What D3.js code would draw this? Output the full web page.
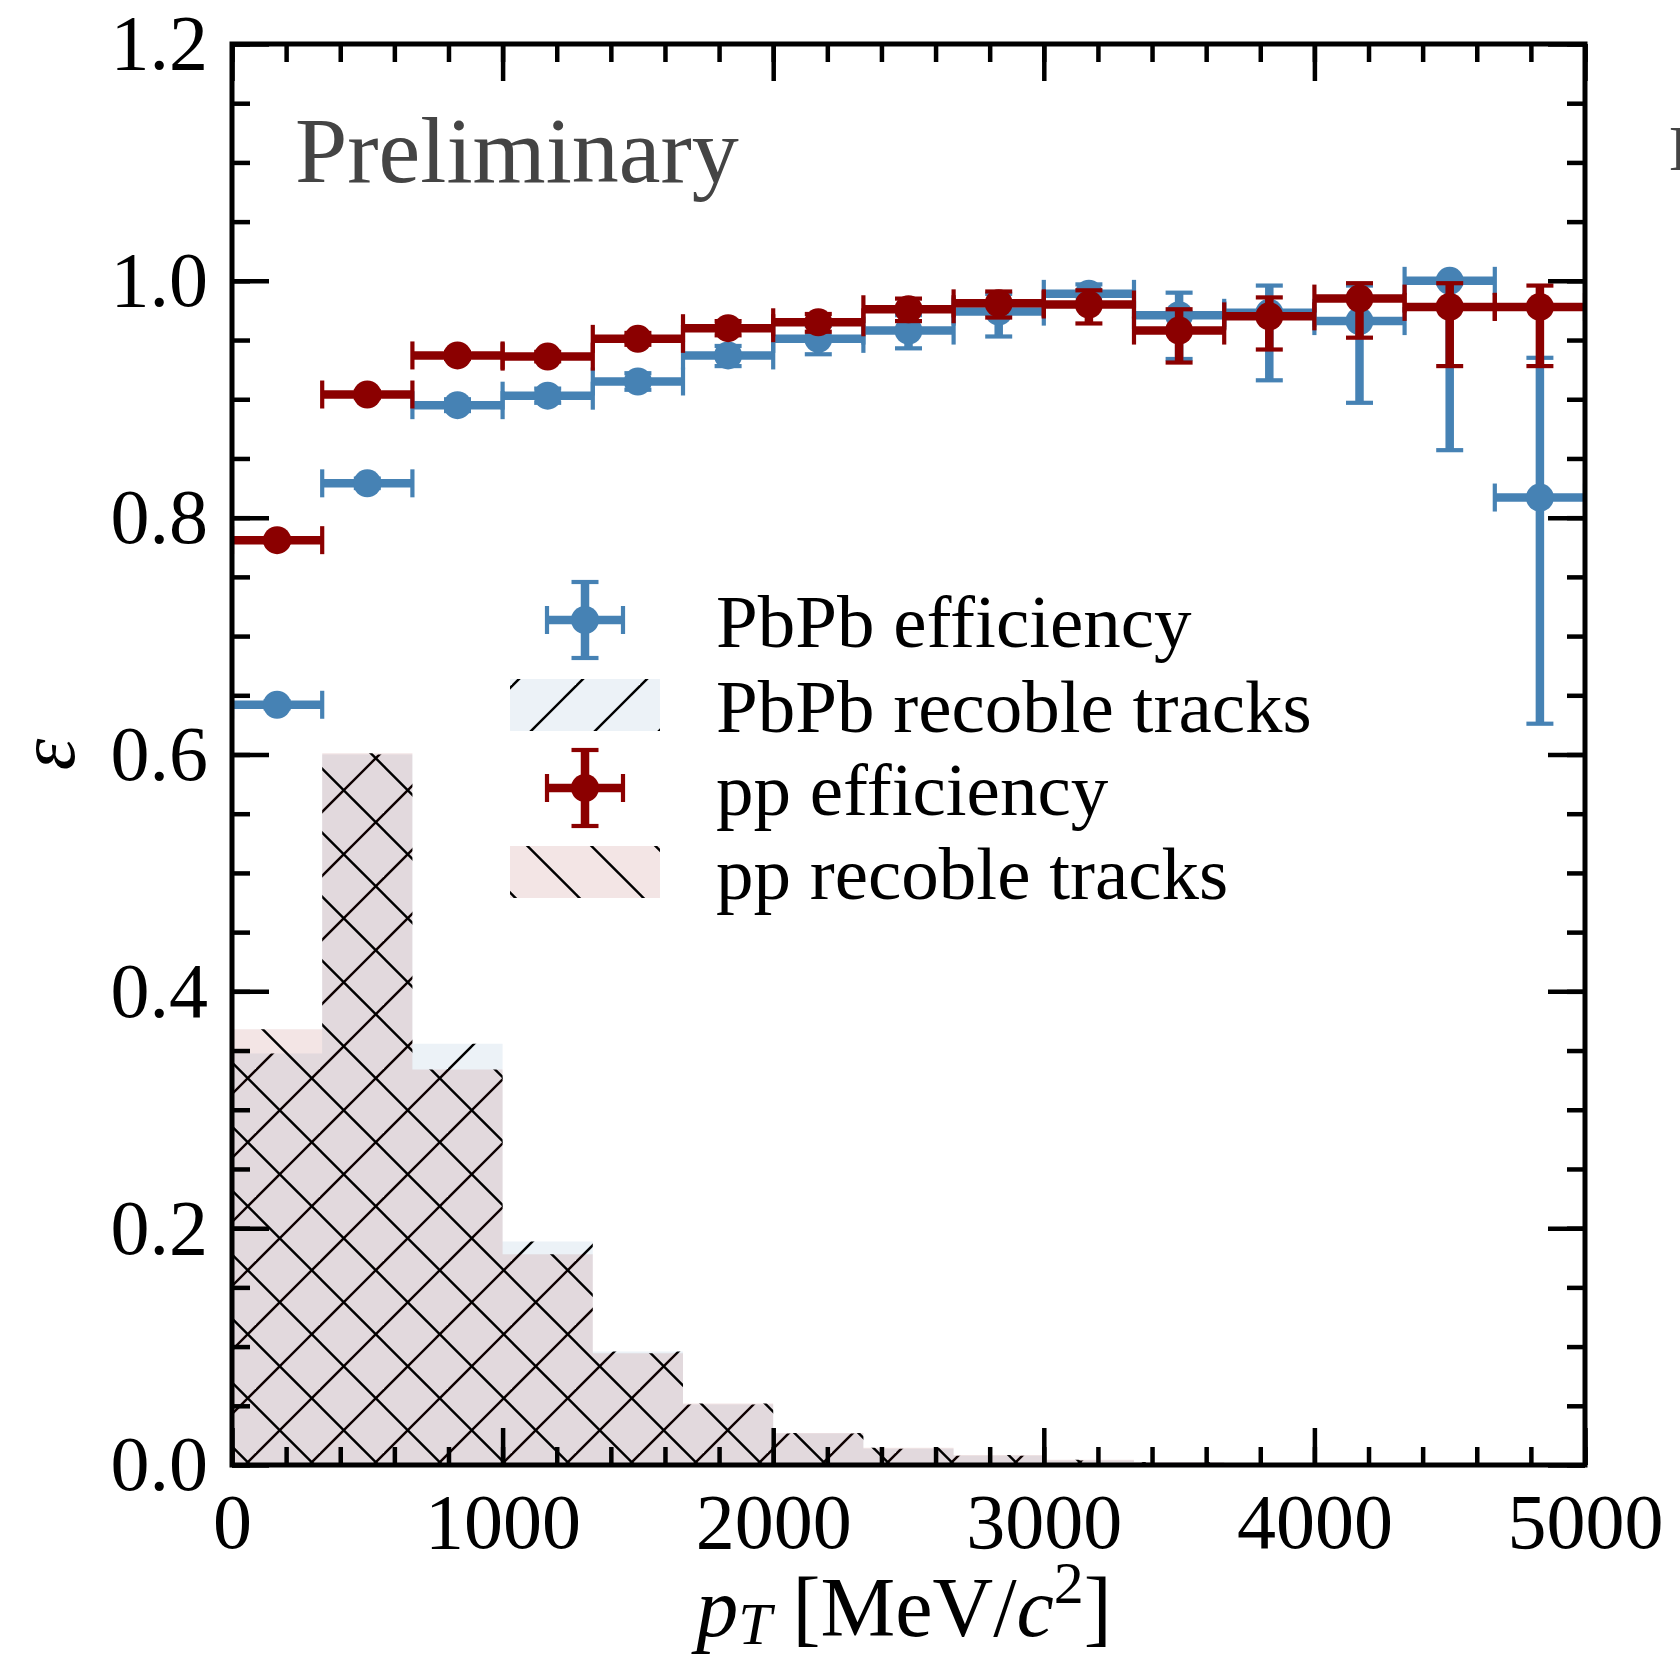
<!DOCTYPE html>
<html>
<head>
<meta charset="utf-8">
<script src="https://cdn.jsdelivr.net/npm/d3@7"></script>
<style>
  html, body { margin: 0; padding: 0; background: #fff; }
  svg { display: block; }
  text { font-family: "Liberation Serif", "Times New Roman", serif; }
</style>
</head>
<body>
<div id="chart"></div>
<script>
// pT binning (MeV/c^2), 15 bins
const binEdges = [0, 333.3, 666.7, 1000, 1333.3, 1666.7, 2000, 2333.3, 2666.7, 3000, 3333.3, 3666.7, 4000, 4333.3, 4666.7, 5000]

// efficiencies with asymmetric errors
const pbpbEff   = [0.642, 0.829, 0.895, 0.903, 0.915, 0.937, 0.951, 0.958, 0.974, 0.989, 0.971, 0.973, 0.966, 1.000, 0.817]
const pbpbErrLo = [0.003, 0.004, 0.005, 0.006, 0.007, 0.009, 0.013, 0.015, 0.021, 0.010, 0.037, 0.057, 0.069, 0.143, 0.191]
const pbpbErrHi = [0.003, 0.004, 0.005, 0.006, 0.007, 0.008, 0.011, 0.013, 0.015, 0.008, 0.019, 0.023, 0.030, 0.000, 0.118]
const ppEff     = [0.781, 0.904, 0.937, 0.936, 0.951, 0.960, 0.965, 0.976, 0.981, 0.980, 0.958, 0.970, 0.985, 0.978, 0.978]
const ppErrLo   = [0.002, 0.003, 0.003, 0.004, 0.005, 0.006, 0.008, 0.010, 0.012, 0.016, 0.027, 0.028, 0.033, 0.050, 0.050]
const ppErrHi   = [0.002, 0.003, 0.003, 0.004, 0.005, 0.006, 0.007, 0.009, 0.010, 0.012, 0.018, 0.016, 0.013, 0.020, 0.018]

// normalised pT spectra of reconstructible tracks
const pbpbTracks = [0.3475, 0.600, 0.3557, 0.1887, 0.0958, 0.051, 0.0265, 0.0138, 0.0079, 0.0038, 0.0022, 0.0012, 0.0006, 0.0004, 0.0002]
const ppTracks   = [0.368, 0.601, 0.334, 0.178, 0.0944, 0.052, 0.027, 0.0145, 0.0085, 0.0045, 0.0025, 0.0014, 0.0008, 0.0005, 0.0003]

const xTicks = [0, 1000, 2000, 3000, 4000, 5000]
const yTicks = [0.0, 0.2, 0.4, 0.6, 0.8, 1.0, 1.2]
const legendLabels = ['PbPb efficiency', 'PbPb recoble tracks', 'pp efficiency', 'pp recoble tracks']

const blue = '#4682b4'
const red = '#8b0000'

const width = 1680, height = 1659
const x = d3.scaleLinear().domain([0, 5000]).range([232, 1585])
const y = d3.scaleLinear().domain([0, 1.2]).range([1465, 44])

const svg = d3.select('#chart').append('svg')
	.attr('width', width)
	.attr('height', height)
const defs = svg.append('defs')

defs.append('clipPath').attr('id', 'plot-clip')
	.append('rect')
	.attr('x', x(0)).attr('y', y(1.2))
	.attr('width', x(5000) - x(0)).attr('height', y(0) - y(1.2))

// hatch tiles in page space, 64px repeat
function hatch(id, dir){
	const p = defs.append('pattern')
		.attr('id', id)
		.attr('patternUnits', 'userSpaceOnUse')
		.attr('width', 64).attr('height', 64)
	for (let k = -1; k <= 2; k++){
		if (dir === '/'){
			const c = 46 + 64 * k
			p.append('line').attr('x1', c + 10).attr('y1', -10).attr('x2', c - 74).attr('y2', 74)
		} else {
			const c = 1.5 + 64 * k
			p.append('line').attr('x1', c - 10).attr('y1', -10).attr('x2', c + 74).attr('y2', 74)
		}
	}
	p.selectAll('line').attr('stroke', '#000').attr('stroke-width', 2.4)
}
hatch('hatch-fwd', '/')
hatch('hatch-back', '\\')

const plot = svg.append('g').attr('clip-path', 'url(#plot-clip)')

// step histograms
const histArea = d3.area()
	.x(d => x(d[0]))
	.y0(y(0))
	.y1(d => y(d[1]))
	.curve(d3.curveStepAfter)

function histPoints(vals){
	const pts = vals.map((v, i) => [binEdges[i], v])
	pts.push([binEdges[vals.length], vals[vals.length - 1]])
	return pts
}

const hists = [
	{vals: pbpbTracks, fill: 'rgba(70,130,180,0.1)', hatch: 'url(#hatch-fwd)'},
	{vals: ppTracks, fill: 'rgba(139,0,0,0.1)', hatch: 'url(#hatch-back)'}
]
hists.forEach(h => {
	const pts = histPoints(h.vals)
	plot.append('path').attr('d', histArea(pts)).attr('fill', h.fill)
	plot.append('path').attr('d', histArea(pts)).attr('fill', h.hatch)
})

// error bars: bin width in x, efficiency error in y
const capLen = 14, capW = 4.2, barW = 8.5, dotR = 14

function drawErrors(g, eff, lo, hi, color){
	const rows = eff.map((v, i) => ({
		x0: binEdges[i], x1: binEdges[i + 1],
		xc: (binEdges[i] + binEdges[i + 1]) / 2,
		v: v, lo: v - lo[i], hi: v + hi[i]
	}))
	const s = g.append('g').attr('stroke', color).attr('fill', color)
	s.selectAll('.xerr').data(rows).join('line')
		.attr('x1', d => x(d.x0)).attr('x2', d => x(d.x1))
		.attr('y1', d => y(d.v)).attr('y2', d => y(d.v))
		.attr('stroke-width', barW)
	s.selectAll('.yerr').data(rows).join('line')
		.attr('x1', d => x(d.xc)).attr('x2', d => x(d.xc))
		.attr('y1', d => y(d.lo)).attr('y2', d => y(d.hi))
		.attr('stroke-width', barW)
	rows.forEach(d => {
		[d.x0, d.x1].forEach(e => {
			s.append('line')
				.attr('x1', x(e)).attr('x2', x(e))
				.attr('y1', y(d.v) - capLen).attr('y2', y(d.v) + capLen)
				.attr('stroke-width', capW)
		})
		;[d.lo, d.hi].forEach(e => {
			s.append('line')
				.attr('x1', x(d.xc) - 13.5).attr('x2', x(d.xc) + 13.5)
				.attr('y1', y(e)).attr('y2', y(e))
				.attr('stroke-width', capW)
		})
	})
	s.selectAll('circle').data(rows).join('circle')
		.attr('cx', d => x(d.xc)).attr('cy', d => y(d.v))
		.attr('r', dotR).attr('stroke', 'none')
}
drawErrors(plot, pbpbEff, pbpbErrLo, pbpbErrHi, blue)
drawErrors(plot, ppEff, ppErrLo, ppErrHi, red)

// ticks on all four sides, pointing inward
const minorX = d3.range(0, 5001, 200)
const minorY = d3.range(0, 1.2001, 0.05)

function styleAxis(g){
	g.select('.domain').remove()
	g.selectAll('line').attr('stroke', '#000').attr('stroke-width', 4.5)
	g.selectAll('text').attr('font-size', 78).attr('fill', '#000')
		.attr('font-family', '"Liberation Serif", "Times New Roman", serif')
	g.attr('font-family', null).attr('font-size', null)
}

const axes = svg.append('g')
axes.append('g').attr('transform', `translate(0,${y(0)})`)
	.call(d3.axisBottom(x).tickValues(minorX).tickSize(-18).tickFormat('')).call(styleAxis)
axes.append('g').attr('transform', `translate(0,${y(0)})`)
	.call(d3.axisBottom(x).tickValues(xTicks).tickSize(-37).tickPadding(28).tickFormat(d3.format('d'))).call(styleAxis)
axes.append('g').attr('transform', `translate(0,${y(1.2)})`)
	.call(d3.axisTop(x).tickValues(minorX).tickSize(-18).tickFormat('')).call(styleAxis)
axes.append('g').attr('transform', `translate(0,${y(1.2)})`)
	.call(d3.axisTop(x).tickValues(xTicks).tickSize(-37).tickFormat('')).call(styleAxis)
axes.append('g').attr('transform', `translate(${x(0)},0)`)
	.call(d3.axisLeft(y).tickValues(minorY).tickSize(-18).tickFormat('')).call(styleAxis)
axes.append('g').attr('transform', `translate(${x(0)},0)`)
	.call(d3.axisLeft(y).tickValues(yTicks).tickSize(-37).tickPadding(24).tickFormat(d3.format('.1f'))).call(styleAxis)
axes.append('g').attr('transform', `translate(${x(5000)},0)`)
	.call(d3.axisRight(y).tickValues(minorY).tickSize(-18).tickFormat('')).call(styleAxis)
axes.append('g').attr('transform', `translate(${x(5000)},0)`)
	.call(d3.axisRight(y).tickValues(yTicks).tickSize(-37).tickFormat('')).call(styleAxis)

svg.append('rect')
	.attr('x', x(0)).attr('y', y(1.2))
	.attr('width', x(5000) - x(0)).attr('height', y(0) - y(1.2))
	.attr('fill', 'none').attr('stroke', '#000').attr('stroke-width', 5)

// axis titles
const xTitle = svg.append('text')
	.attr('x', 904).attr('y', 1636)
	.attr('text-anchor', 'middle')
	.attr('font-size', 84)
xTitle.append('tspan').attr('font-style', 'italic').text('p')
xTitle.append('tspan').attr('font-style', 'italic').attr('font-size', 60).attr('dy', 8).text('T')
xTitle.append('tspan').attr('dy', -8).text(' [MeV/')
xTitle.append('tspan').attr('font-style', 'italic').text('c')
xTitle.append('tspan').attr('font-size', 60).attr('dy', -33).text('2')
xTitle.append('tspan').attr('dy', 33).text(']')

svg.append('text')
	.attr('transform', `translate(74,${(y(0) + y(1.2)) / 2}) rotate(-90)`)
	.attr('text-anchor', 'middle')
	.attr('font-size', 80)
	.attr('font-style', 'italic')
	.text('ε')

svg.append('text')
	.attr('x', 295).attr('y', 182)
	.attr('font-size', 94)
	.attr('fill', '#444')
	.text('Preliminary')

// legend
const legend = svg.append('g')
const rowY = [620, 705, 788, 872]
const lx = 585
function legendErr(cy, color){
	const g = legend.append('g').attr('stroke', color).attr('fill', color)
	g.append('line').attr('x1', lx - 38).attr('x2', lx + 38).attr('y1', cy).attr('y2', cy).attr('stroke-width', barW)
	g.append('line').attr('x1', lx).attr('x2', lx).attr('y1', cy - 38).attr('y2', cy + 38).attr('stroke-width', barW)
	;[lx - 38, lx + 38].forEach(e => g.append('line').attr('x1', e).attr('x2', e).attr('y1', cy - capLen).attr('y2', cy + capLen).attr('stroke-width', capW))
	;[cy - 38, cy + 38].forEach(e => g.append('line').attr('x1', lx - 13.5).attr('x2', lx + 13.5).attr('y1', e).attr('y2', e).attr('stroke-width', capW))
	g.append('circle').attr('cx', lx).attr('cy', cy).attr('r', dotR).attr('stroke', 'none')
}
function legendPatch(cy, h){
	legend.append('rect').attr('x', 510).attr('y', cy - 26).attr('width', 150).attr('height', 52).attr('fill', h.fill)
	legend.append('rect').attr('x', 510).attr('y', cy - 26).attr('width', 150).attr('height', 52).attr('fill', h.hatch)
}
legendErr(rowY[0], blue)
legendPatch(rowY[1], hists[0])
legendErr(rowY[2], red)
legendPatch(rowY[3], hists[1])

legend.selectAll('.label').data(legendLabels).join('text')
	.attr('x', 716)
	.attr('y', (d, i) => rowY[i] + 27)
	.attr('font-size', 75)
	.attr('fill', '#000')
	.text(d => d)

// experiment tag, runs off the right edge
svg.append('text')
	.attr('x', 1669).attr('y', 170)
	.attr('font-size', 64)
	.attr('fill', '#444')
	.text('LHCb')
</script>
</body>
</html>
